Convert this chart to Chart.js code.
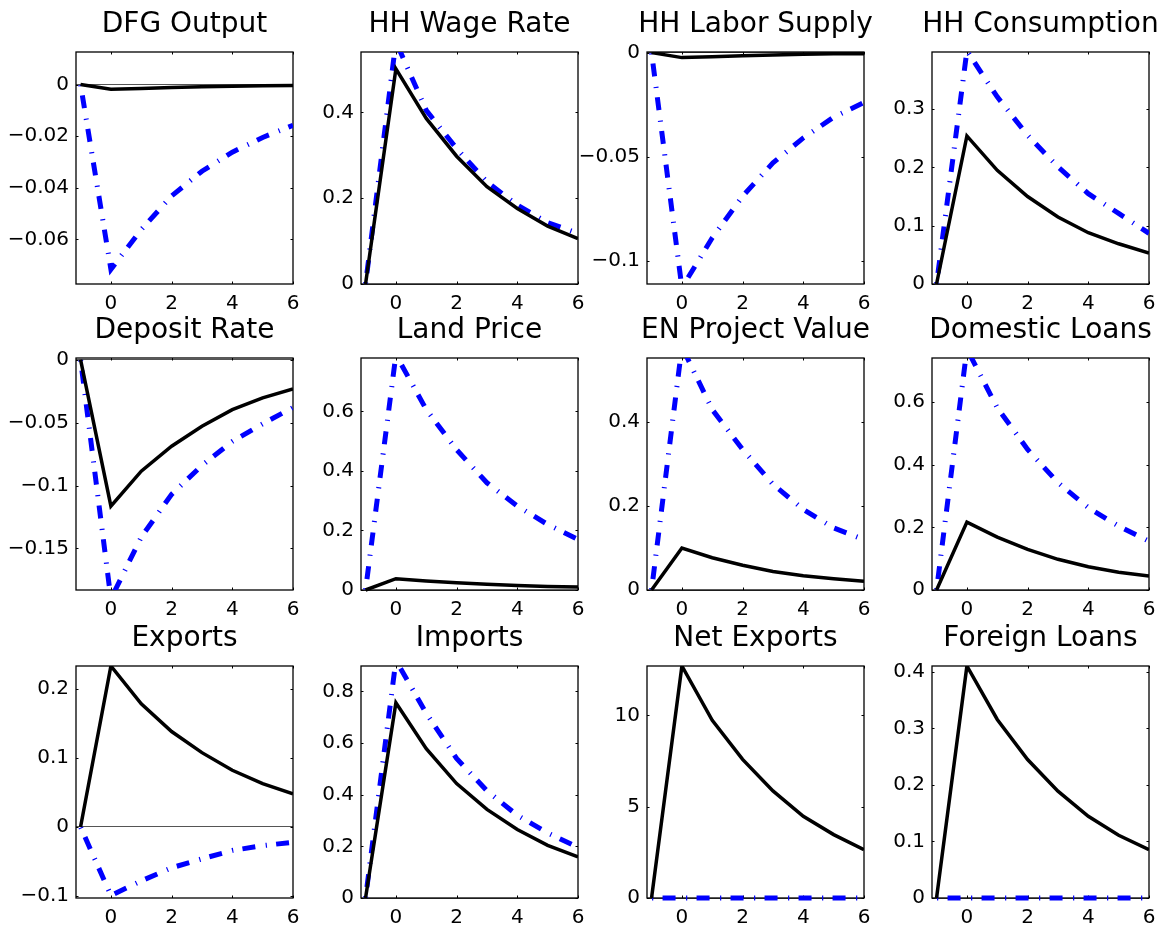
<!DOCTYPE html>
<html><head><meta charset="utf-8">
<script src="https://cdn.jsdelivr.net/npm/chart.js@4.4.0/dist/chart.umd.min.js"></script>
<style>
html,body{margin:0;padding:0;background:#fff;overflow:hidden;width:1163px;height:933px;position:relative;}
canvas.p{position:absolute;}
</style></head><body>
<script>
// ---------- data ----------
const periods = [-1, 0, 1, 2, 3, 4, 5, 6];
const xTickValues = [0, 2, 4, 6];

const titles = ["DFG Output", "HH Wage Rate", "HH Labor Supply", "HH Consumption",
                "Deposit Rate", "Land Price", "EN Project Value", "Domestic Loans",
                "Exports", "Imports", "Net Exports", "Foreign Loans"];

// solid black series (baseline)
const dfgOutputBase   = [0, -0.0018, -0.0015, -0.0012, -0.0009, -0.0007, -0.0005, -0.0004];
const wageRateBase    = [0, 0.502, 0.386, 0.298, 0.227, 0.176, 0.135, 0.106];
const laborSupplyBase = [0, -0.0024, -0.0020, -0.0015, -0.0011, -0.0008, -0.0006, -0.0005];
const consumptionBase = [0, 0.254, 0.195, 0.150, 0.115, 0.088, 0.069, 0.053];
const depositRateBase = [0, -0.1164, -0.0886, -0.0688, -0.0529, -0.0397, -0.0304, -0.0233];
const landPriceBase   = [0, 0.038, 0.030, 0.024, 0.019, 0.015, 0.012, 0.010];
const enProjectBase   = [0, 0.100, 0.077, 0.059, 0.044, 0.034, 0.027, 0.021];
const domLoansBase    = [0, 0.217, 0.169, 0.130, 0.098, 0.0745, 0.057, 0.045];
const exportsBase     = [0, 0.2328, 0.178, 0.138, 0.1075, 0.082, 0.0627, 0.048];
const importsBase     = [0, 0.756, 0.578, 0.443, 0.343, 0.265, 0.204, 0.159];
const netExportsBase  = [0, 12.70, 9.73, 7.59, 5.86, 4.47, 3.47, 2.65];
const forLoansBase    = [0, 0.4106, 0.316, 0.245, 0.189, 0.1445, 0.111, 0.0855];

// blue dash-dot series (alternative)
const dfgOutputAlt   = [0, -0.0716, -0.0562, -0.0432, -0.0336, -0.0262, -0.0205, -0.0158];
const wageRateAlt    = [0, 0.565, 0.405, 0.316, 0.238, 0.184, 0.143, 0.118];
const laborSupplyAlt = [0, -0.113, -0.089, -0.069, -0.053, -0.041, -0.031, -0.024];
const consumptionAlt = [0, 0.400, 0.321, 0.255, 0.201, 0.155, 0.121, 0.087];
const depositRateAlt = [0, -0.190, -0.141, -0.107, -0.084, -0.065, -0.051, -0.038];
const landPriceAlt   = [0, 0.790, 0.606, 0.471, 0.360, 0.282, 0.220, 0.170];
const enProjectAlt   = [0, 0.580, 0.430, 0.335, 0.252, 0.192, 0.148, 0.120];
const domLoansAlt    = [0, 0.770, 0.582, 0.449, 0.343, 0.263, 0.204, 0.156];
const exportsAlt     = [0, -0.099, -0.078, -0.059, -0.046, -0.034, -0.027, -0.022];
const importsAlt     = [0, 0.920, 0.715, 0.540, 0.415, 0.320, 0.252, 0.196];
const netExportsAlt  = [0, 0, 0, 0, 0, 0, 0, 0];
const forLoansAlt    = [0, 0, 0, 0, 0, 0, 0, 0];

// y-axis limits and tick labels
const yMins = [-0.0773, 0, -0.1112, 0, -0.183, 0, 0, 0, -0.1027, 0, 0, 0];
const yMaxs = [0.0126, 0.541, 0.0003, 0.398, 0.0013, 0.779, 0.553, 0.741, 0.2328, 0.898, 12.70, 0.4106];
const yTicksDfg = [-0.06, -0.04, -0.02, 0];
const yTicksWage = [0, 0.2, 0.4];
const yTicksLabor = [-0.1, -0.05, 0];
const yTicksCons = [0, 0.1, 0.2, 0.3];
const yTicksDeposit = [-0.15, -0.1, -0.05, 0];
const yTicksLand = [0, 0.2, 0.4, 0.6];
const yTicksEn = [0, 0.2, 0.4];
const yTicksDom = [0, 0.2, 0.4, 0.6];
const yTicksExports = [-0.1, 0, 0.1, 0.2];
const yTicksImports = [0, 0.2, 0.4, 0.6, 0.8];
const yTicksNet = [0, 5, 10];
const yTicksFor = [0, 0.1, 0.2, 0.3, 0.4];

const baseSeries = [dfgOutputBase, wageRateBase, laborSupplyBase, consumptionBase, depositRateBase, landPriceBase,
                    enProjectBase, domLoansBase, exportsBase, importsBase, netExportsBase, forLoansBase];
const altSeries = [dfgOutputAlt, wageRateAlt, laborSupplyAlt, consumptionAlt, depositRateAlt, landPriceAlt,
                   enProjectAlt, domLoansAlt, exportsAlt, importsAlt, netExportsAlt, forLoansAlt];
const yTickSets = [yTicksDfg, yTicksWage, yTicksLabor, yTicksCons, yTicksDeposit, yTicksLand,
                   yTicksEn, yTicksDom, yTicksExports, yTicksImports, yTicksNet, yTicksFor];

// ---------- layout ----------
const colLeft = [76, 361, 647, 932];
const rowTop = [52, 358, 666];
const plotW = 217, plotH = 232;
const padL = 85, padT = 52, padR = 75, padB = 40;
const FONT = "'DejaVu Sans', 'Liberation Sans', Arial, sans-serif";

function fmt(v) {
  if (Math.abs(v) < 1e-12) return "0";
  const s = String(Math.abs(v));
  return v < 0 ? "\u2212" + s : s;
}
function toXY(arr) { return periods.map((p, i) => ({ x: p, y: arr[i] })); }

const framePlugin = {
  id: 'frame',
  beforeDatasetsDraw(chart) {
    const { ctx, chartArea: a, scales } = chart;
    const x = scales.x, y = scales.y;
    ctx.save();
    ctx.strokeStyle = '#000';
    ctx.lineWidth = 1.3;
    ctx.strokeRect(a.left, a.top, a.right - a.left, a.bottom - a.top);
    ctx.lineWidth = 1;
    ctx.beginPath();
    const tl = 2.5;
    x.ticks.forEach(t => {
      const px = Math.round(x.getPixelForValue(t.value)) + 0.5;
      ctx.moveTo(px, a.bottom); ctx.lineTo(px, a.bottom - tl);
      ctx.moveTo(px, a.top); ctx.lineTo(px, a.top + tl);
    });
    y.ticks.forEach(t => {
      const py = Math.round(y.getPixelForValue(t.value)) + 0.5;
      ctx.moveTo(a.left, py); ctx.lineTo(a.left + tl, py);
      ctx.moveTo(a.right, py); ctx.lineTo(a.right - tl, py);
    });
    ctx.stroke();
    ctx.restore();
  },
  afterDraw(chart, args, opts) {
    const { ctx, chartArea: a } = chart;
    ctx.save();
    ctx.fillStyle = '#000';
    ctx.font = "28px " + FONT;
    ctx.textAlign = 'center';
    ctx.textBaseline = 'alphabetic';
    ctx.fillText(opts.title, (a.left + a.right) / 2, a.top - 20);
    ctx.restore();
  }
};

for (let i = 0; i < 12; i++) {
  const row = Math.floor(i / 4), col = i % 4;
  const cv = document.createElement('canvas');
  cv.className = 'p';
  const W = padL + plotW + padR, H = padT + plotH + padB;
  cv.width = W; cv.height = H;
  cv.style.width = W + 'px'; cv.style.height = H + 'px';
  cv.style.left = (colLeft[col] - padL) + 'px';
  cv.style.top = (rowTop[row] - padT) + 'px';
  document.body.appendChild(cv);

  const yt = yTickSets[i];
  const clip = { left: 0, right: 0, top: 0, bottom: yMins[i] === 0 ? 3 : 0 };
  new Chart(cv, {
    type: 'line',
    data: {
      datasets: [
        { data: toXY(baseSeries[i]), borderColor: '#000', borderWidth: 3.5, pointRadius: 0, order: 0, clip: clip, borderJoinStyle: 'miter' },
        { data: toXY(altSeries[i]), borderColor: '#0000ff', borderWidth: 5, borderDash: [13, 21], borderDashOffset: 23, pointRadius: 0, order: 1, clip: clip },
        { data: toXY(altSeries[i]), borderColor: '#0000ff', borderWidth: 5, borderDash: [1.2, 32.8], borderDashOffset: 33.5, pointRadius: 0, order: 2, clip: clip }
      ]
    },
    options: {
      responsive: false,
      animation: false,
      devicePixelRatio: 1,
      layout: { padding: { top: padT, right: padR, left: 0, bottom: 0 } },
      plugins: { legend: { display: false }, tooltip: { enabled: false }, title: { display: false }, frame: { title: titles[i] } },
      elements: { line: { tension: 0, fill: false } },
      scales: {
        x: {
          type: 'linear', min: -1.15, max: 6,
          afterFit: s => { s.height = padB; },
          afterBuildTicks: s => { s.ticks = xTickValues.map(v => ({ value: v })); },
          grid: { display: false, drawTicks: false },
          border: { display: false },
          ticks: { padding: 8, maxRotation: 0, autoSkip: false, color: '#000', font: { family: FONT, size: 20 }, callback: v => fmt(v) }
        },
        y: {
          type: 'linear', min: yMins[i], max: yMaxs[i],
          afterFit: s => { s.width = padL; },
          afterBuildTicks: s => { s.ticks = yt.map(v => ({ value: v })); },
          grid: { drawTicks: false, lineWidth: 1, color: c => (c.tick && Math.abs(c.tick.value) < 1e-12) ? '#555' : 'rgba(0,0,0,0)' },
          border: { display: false },
          ticks: { padding: 7, autoSkip: false, color: '#000', font: { family: FONT, size: 20 }, callback: v => fmt(v) }
        }
      }
    },
    plugins: [framePlugin]
  });
}
</script>
</body></html>
